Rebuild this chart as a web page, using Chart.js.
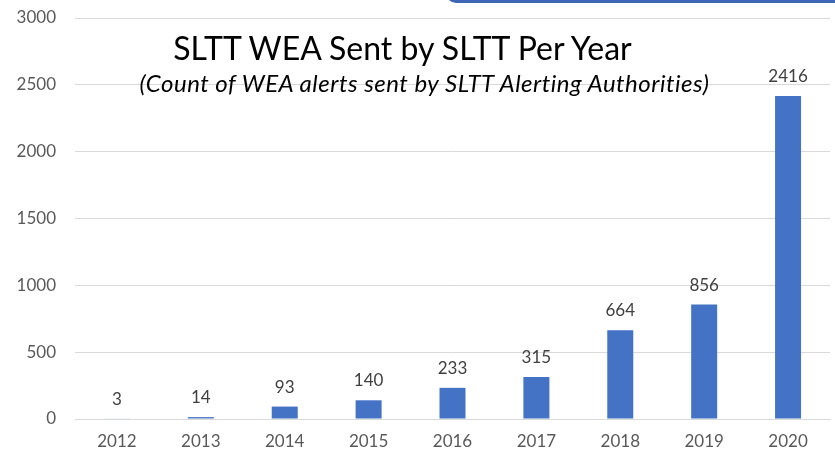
<!DOCTYPE html>
<html>
<head>
<meta charset="utf-8">
<script src="https://cdn.jsdelivr.net/npm/chart.js@4/dist/chart.umd.min.js"></script>
<style>
  html, body { margin: 0; padding: 0; background: #fff; }
  #wrap { position: relative; width: 835px; height: 458px; overflow: hidden; }
  #chart { position: absolute; left: 0; top: 0; }
  .title { position: absolute; left: 0; width: 835px; text-align: center; font-family: Lato, sans-serif; color: #000; white-space: nowrap; }
  #main { top: 28px; left: -15px; font-size: 32px; }
  #sub { top: 68px; left: 7px; font-size: 24px; font-style: italic; letter-spacing: 0.5px; }
  #corner { position: absolute; left: 446px; top: -11px; width: 420px; height: 14px; background: #3f66b4; border-bottom-left-radius: 10px; }
</style>
</head>
<body>
<div id="wrap">
  <canvas id="chart" width="835" height="458"></canvas>
  <div id="corner"></div>
  <div class="title" id="main">SLTT WEA Sent by SLTT Per Year</div>
  <div class="title" id="sub">(Count of WEA alerts sent by SLTT Alerting Authorities)</div>
</div>
<script>
// ==============================
// CHART DATA
// ==============================
const years = ["2012", "2013", "2014", "2015", "2016", "2017", "2018", "2019", "2020"];
const alertsSent = [3, 14, 93, 140, 233, 315, 664, 856, 2416];
const yTicks = [0, 500, 1000, 1500, 2000, 2500, 3000];

// value labels above each bar
const barLabels = {
    id: "barLabels",
    afterDatasetsDraw(chart) {
        const ctx = chart.ctx;
        const meta = chart.getDatasetMeta(0);
        ctx.save();
        ctx.font = "17px Lato, sans-serif";
        ctx.fillStyle = "#404040";
        ctx.textAlign = "center";
        ctx.textBaseline = "bottom";
        meta.data.forEach((bar, i) => {
            ctx.fillText(alertsSent[i], bar.x, bar.y - 11);
        });
        ctx.restore();
    }
};

new Chart(document.getElementById("chart"), {
    type: "bar",
    data: {
        labels: years,
        datasets: [{
            data: alertsSent,
            backgroundColor: "#4472c4",
            barPercentage: 0.31,
            categoryPercentage: 1
        }]
    },
    options: {
        responsive: false,
        animation: false,
        layout: { padding: { top: 18, right: 5, left: 0, bottom: 0 } },
        plugins: {
            legend: { display: false },
            title: { display: false },
            tooltip: { enabled: false }
        },
        scales: {
            x: {
                grid: { display: false, drawTicks: false },
                border: { color: "#d9d9d9" },
                ticks: { color: "#595959", font: { family: "Lato, sans-serif", size: 17 }, padding: 12 },
                afterFit(scale) { scale.height = 39; }
            },
            y: {
                min: 0,
                max: 3000,
                afterBuildTicks(scale) { scale.ticks = yTicks.map(v => ({ value: v })); },
                grid: { color: "#d9d9d9", drawTicks: false },
                border: { display: false },
                ticks: {
                    color: "#595959",
                    font: { family: "Lato, sans-serif", size: 17 },
                    padding: 19,
                    callback: v => String(v)
                },
                afterFit(scale) {
                    // fixed axis width, and no extra room for half-labels at the ends
                    scale.width = 75;
                    scale.paddingTop = 0;
                    scale.paddingBottom = 0;
                }
            }
        }
    },
    plugins: [barLabels]
});
</script>
</body>
</html>
